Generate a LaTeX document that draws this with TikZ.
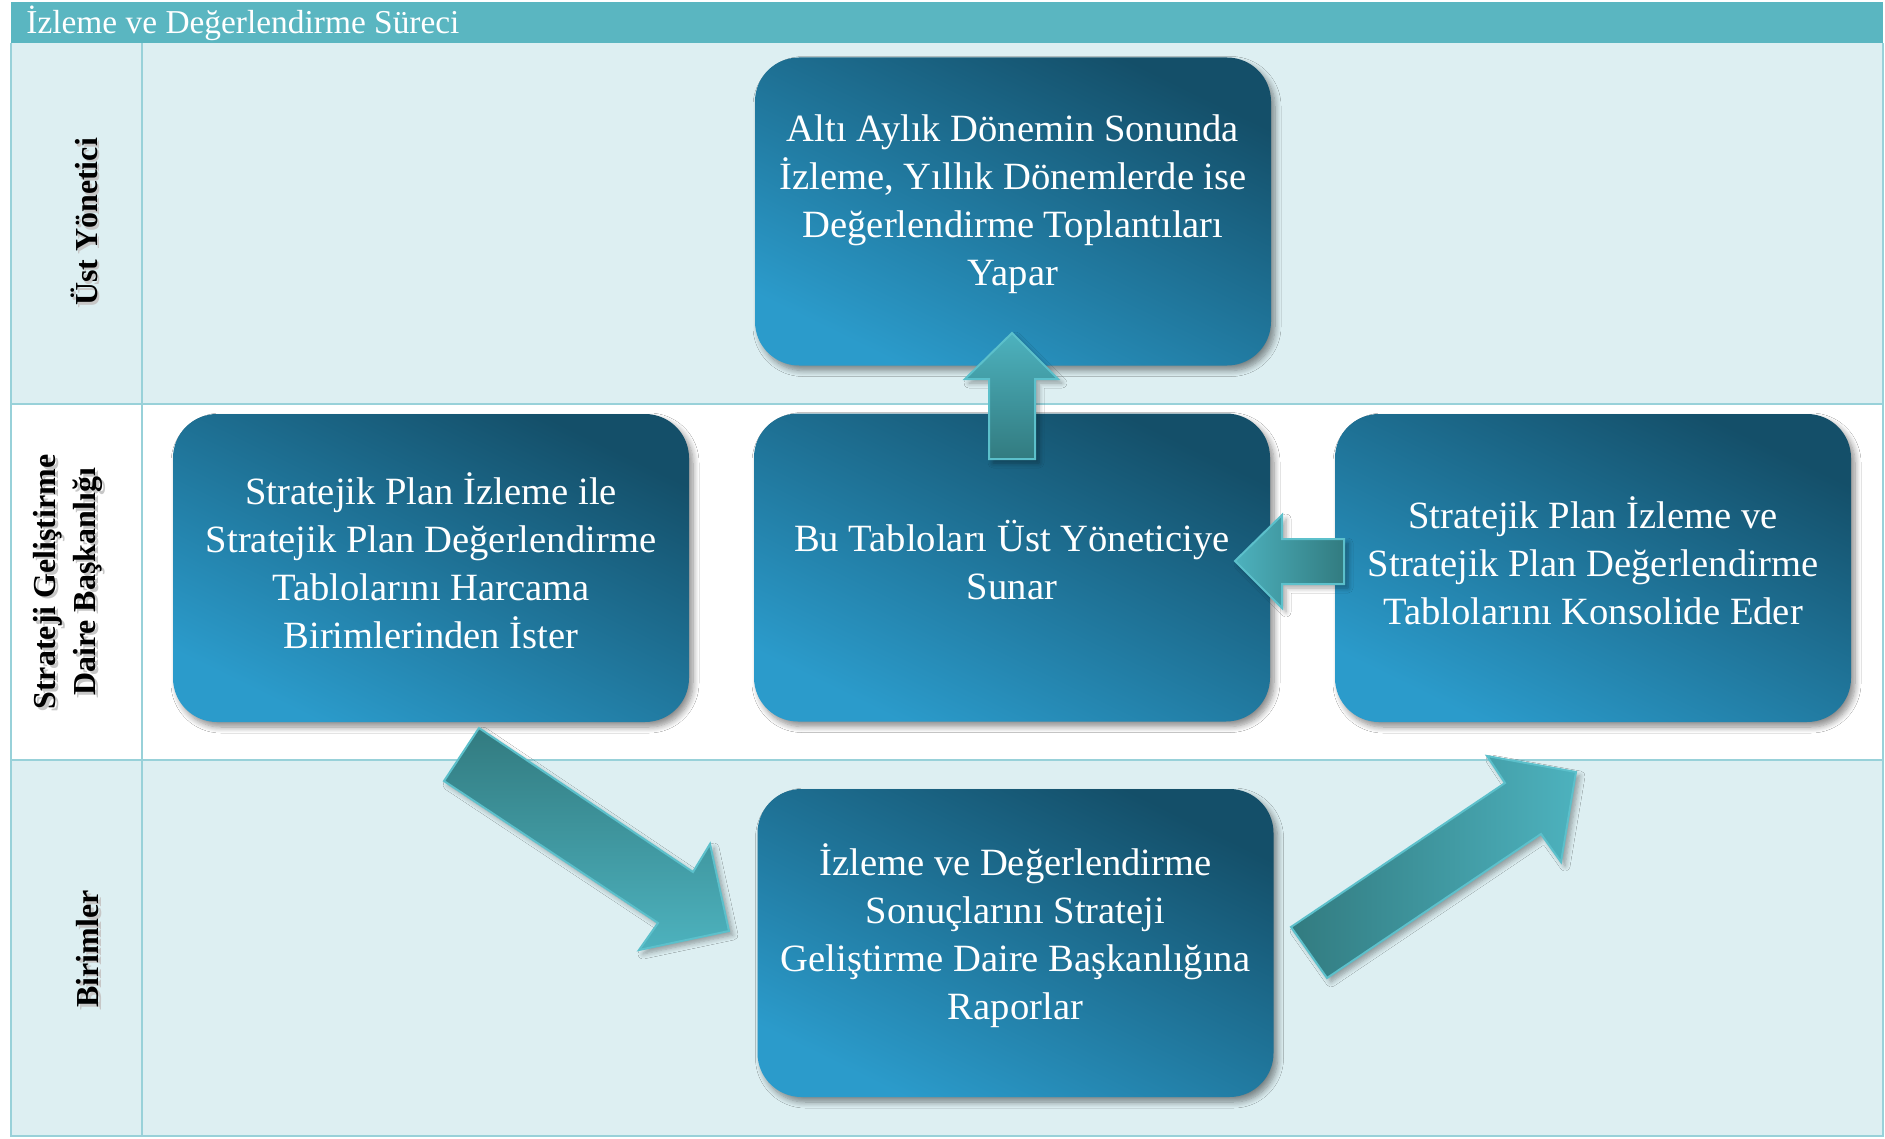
\documentclass[tikz,border=0pt]{standalone}
\usepackage{fontspec}
\setmainfont{Liberation Serif}
\usetikzlibrary{shadows,shadows.blur}
\definecolor{hdr}{HTML}{5AB6C1}
\definecolor{rowfill}{HTML}{DDEFF2}
\definecolor{gridline}{HTML}{98D1D9}
\definecolor{boxdark}{HTML}{144F69}
\definecolor{boxlight}{HTML}{2B9BCB}
\definecolor{arrdark}{HTML}{327B80}
\definecolor{arrlight}{HTML}{4DB2BE}
\definecolor{arredge}{HTML}{5CC0CB}
\tikzset{
  procbox/.style={rectangle, rounded corners=22pt, minimum width=258pt, minimum height=154pt,
    inner sep=0pt, top color=boxdark, bottom color=boxlight, shading angle=-26,
    blur shadow={shadow xshift=2pt, shadow yshift=-2.5pt, shadow blur radius=3pt, shadow blur steps=8, shadow opacity=45}},
  boxtext/.style={text=white, align=center, inner sep=0pt, font=\fontsize{19.3}{24}\selectfont},
  blockarrow/.style={draw=arredge, line width=1pt, line join=miter,
    blur shadow={shadow xshift=2pt, shadow yshift=-2pt, shadow blur radius=2.5pt, shadow blur steps=6, shadow opacity=35}},
  lanelabel/.style={rotate=90, align=center, inner sep=0pt, font=\bfseries\fontsize{16}{20}\selectfont},
  laneshadow/.style={lanelabel, text=black!22},
  grid/.style={draw=gridline, line width=1.3pt}
}
\begin{document}
\begin{tikzpicture}[x=0.5pt,y=-0.5pt]
\useasboundingbox (0,0) rectangle (1885,1139);
% table
\fill[white] (0,0) rectangle (1885,1139);
\fill[hdr] (11,2) rectangle (1883,43);
\fill[rowfill] (11,43) rectangle (1883,404);
\fill[white] (11,404) rectangle (1883,760);
\fill[rowfill] (11,760) rectangle (1883,1136);
\draw[grid] (11,43) -- (11,1136) -- (1883,1136) -- (1883,43);
\draw[grid] (11,404) -- (1883,404);
\draw[grid] (11,760) -- (1883,760);
\draw[grid] (142,43) -- (142,1136);
\node[anchor=base west, text=white, inner sep=0pt, font=\fontsize{16.7}{20}\selectfont] (title) at (26,34) {İzleme ve Değerlendirme Süreci};
% lane labels
\node[laneshadow] (l1s) at (86.5,224.5) {Üst Yönetici};
\node[lanelabel] (l1) at (84,222) {Üst Yönetici};
\node[laneshadow] (l2s) at (70.5,584.5) {Strateji Geliştirme\\Daire Başkanlığı};
\node[lanelabel] (l2) at (68,582) {Strateji Geliştirme\\Daire Başkanlığı};
\node[laneshadow] (l3s) at (90.5,951.5) {Birimler};
\node[lanelabel] (l3) at (88,949) {Birimler};
% process boxes
\node[procbox] (top) at (1013,211.5) {};
\node[procbox] (left) at (431,568) {};
\node[procbox] (mid) at (1012,567.5) {};
\node[procbox] (right) at (1593,568) {};
\node[procbox] (bot) at (1015.5,943) {};
\node[boxtext] (ttop) at ([yshift=3.5pt]top.center) {Altı Aylık Dönemin Sonunda\\İzleme, Yıllık Dönemlerde ise\\Değerlendirme Toplantıları\\Yapar};
\node[boxtext] (tleft) at ([yshift=3.5pt]left.center) {Stratejik Plan İzleme ile\\Stratejik Plan Değerlendirme\\Tablolarını Harcama\\Birimlerinden İster};
\node[boxtext] (tmid) at ([yshift=3.5pt]mid.center) {Bu Tabloları Üst Yöneticiye\\Sunar};
\node[boxtext] (tright) at ([yshift=3.5pt]right.center) {Stratejik Plan İzleme ve\\Stratejik Plan Değerlendirme\\Tablolarını Konsolide Eder};
\node[boxtext] (tbot) at ([yshift=3.5pt]bot.center) {İzleme ve Değerlendirme\\Sonuçlarını Strateji\\Geliştirme Daire Başkanlığına\\Raporlar};
% block arrows
\path[blockarrow, top color=arrlight, bottom color=arrdark]
  (989,459) -- (989,379) -- (965,379) -- (1012,333) -- (1058,379) -- (1035,379) -- (1035,459) -- cycle;
\path[blockarrow, left color=arrlight, right color=arrdark]
  (1344,539) -- (1282,539) -- (1282,515) -- (1235,561) -- (1282,608) -- (1282,584) -- (1344,584) -- cycle;
\path[blockarrow, top color=arrdark, bottom color=arrlight]
  (479,728) -- (693,872) -- (710,844) -- (729,931) -- (639,950) -- (658,923) -- (444,781) -- cycle;
\path[blockarrow, left color=arrdark, right color=arrlight]
  (1291,927) -- (1505,783) -- (1487,756) -- (1576,772) -- (1561,862) -- (1541,834) -- (1327,978) -- cycle;
\end{tikzpicture}
\end{document}
